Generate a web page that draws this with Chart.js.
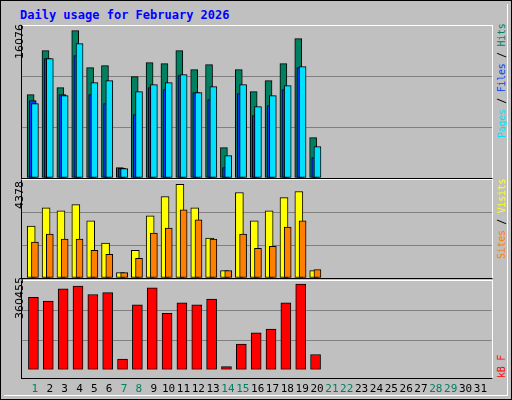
<!DOCTYPE html>
<html>
<head>
<meta charset="utf-8">
<script src="https://cdn.jsdelivr.net/npm/chart.js@4/dist/chart.umd.min.js"></script>
<style>
  body { margin: 0; background: #fff; }
  #frame { position: relative; width: 510px; height: 398px; background: #c0c0c0; border: 1px solid #000; overflow: hidden; }
  #frame::after { content: ''; position: absolute; left: 3px; top: 3px; right: 3px; bottom: 3px; border-right: 1px solid #fff; border-bottom: 1px solid #fff; pointer-events: none; }
  .title { position: absolute; left: 19px; top: 7px; font: bold 12px "DejaVu Sans Mono", monospace; color: #0000ff; }
  canvas { position: absolute; }
  .panel { position: absolute; left: 20px; width: 470px; border: 1px solid #000; border-top-color: #fff; border-right-color: #fff; }
  .vl { position: absolute; transform-origin: left top; transform: rotate(-90deg); white-space: nowrap; font: 11px "DejaVu Sans", sans-serif; color: #000; }
  .vr { position: absolute; transform-origin: left top; transform: rotate(-90deg); white-space: nowrap; font: 10px "DejaVu Sans Mono", monospace; letter-spacing: -0.3px; }
</style>
</head>
<body>
<div id="frame">
  <div class="title">Daily usage for February 2026</div>
  <div class="panel" style="top:24px;height:152px"></div>
  <div class="panel" style="top:178px;height:98px"></div>
  <div class="panel" style="top:279px;height:97px"></div>
  <canvas id="topChart" style="left:21px;top:25px" width="470" height="152"></canvas>
  <canvas id="midChart" style="left:21px;top:179px" width="470" height="98"></canvas>
  <canvas id="botChart" style="left:21px;top:280px" width="470" height="120"></canvas>
  <div id="maxHitsLbl" class="vl" style="left:12px;top:58px"></div>
  <div id="maxVisitsLbl" class="vl" style="left:12px;top:208px"></div>
  <div id="maxKbLbl" class="vl" style="left:12px;top:318px"></div>
  <div class="vr" style="left:495px;top:137px"><span style="color:#00e0ff">Pages</span> / <span style="color:#0040ff">Files</span> / <span style="color:#008060">Hits</span></div>
  <div class="vr" style="left:495px;top:258px"><span style="color:#ff8000">Sites</span> / <span style="color:#ffff00">Visits</span></div>
  <div class="vr" style="left:495px;top:377px"><span style="color:#ff0000">kB F</span></div>
</div>
<script>
// Data
const days = Array.from({ length: 31 }, (_, i) => i + 1);
const weekendDays = [1, 7, 8, 14, 15, 21, 22, 28, 29];
const hits = [9093, 13894, 9857, 16076, 12039, 12257, 1127, 11057, 12584, 12475, 13894, 11821, 12366, 3310, 11821, 9420, 10620, 12475, 15203, 4401];
const files = [8438, 13021, 9093, 13348, 9093, 8111, 1055, 6911, 9857, 9638, 11166, 9311, 8547, 1127, 9202, 6801, 7893, 9638, 12039, 2219];
const pages = [8111, 13021, 8984, 14657, 10402, 10620, 1018, 9420, 10184, 10402, 11275, 9311, 9966, 2437, 10184, 7783, 8984, 10075, 12148, 3419];
const visits = [2434, 3287, 3145, 3430, 2671, 1628, 253, 1296, 2908, 3809, 4378, 3287, 1865, 348, 3999, 2671, 3145, 3762, 4046, 348];
const sites = [1675, 2055, 1818, 1818, 1296, 1106, 253, 917, 2102, 2339, 3193, 2718, 1818, 348, 2055, 1391, 1486, 2387, 2671, 395];
const kbytes = [305196, 289410, 340715, 352554, 317036, 324929, 44727, 273624, 344661, 238106, 281517, 273624, 297303, 13155, 107871, 155229, 171015, 281517, 360455, 64460];
const maxLabels = ['16076', '4378', '360455'];

document.getElementById('maxHitsLbl').textContent = maxLabels[0];
document.getElementById('maxVisitsLbl').textContent = maxLabels[1];
document.getElementById('maxKbLbl').textContent = maxLabels[2];

const xMin = 0.13, xMax = 31.74;

const series = (values, offset, color, width, order) => ({
    data: values.map((v, i) => ({ x: i + 1 + offset, y: v })),
    backgroundColor: color,
    borderColor: '#000',
    borderWidth: 1,
    borderSkipped: false,
    barThickness: width,
    grouped: false,
    order: order
});

const makeChart = (id, datasets, yMax, showX) => {
    new Chart(document.getElementById(id), {
        type: 'bar',
        data: { datasets: datasets },
        options: {
            responsive: false,
            animation: false,
            layout: { padding: 0 },
            plugins: { legend: { display: false }, tooltip: { enabled: false } },
            scales: {
                x: {
                    type: 'linear', min: xMin, max: xMax,
                    offset: false,
                    display: showX,
                    grid: { display: false },
                    border: { display: false },
                    afterBuildTicks: (axis) => { axis.ticks = days.map(d => ({ value: d })); },
                    ticks: {
                        autoSkip: false, maxRotation: 0, padding: 5,
                        font: { family: 'DejaVu Sans Mono', size: 11 },
                        color: (ctx) => weekendDays.includes(ctx.tick.value) ? '#008060' : '#000'
                    }
                },
                y: {
                    display: true, min: 0, max: yMax,
                    afterBuildTicks: (axis) => { axis.ticks = [0, yMax / 3, yMax * 2 / 3, yMax].map(v => ({ value: v })); },
                    ticks: { display: false },
                    border: { display: false },
                    grid: {
                        drawTicks: false,
                        color: (ctx) => (ctx.index === 1 || ctx.index === 2) ? '#808080' : 'rgba(0,0,0,0)',
                        lineWidth: 1
                    }
                }
            }
        }
    });
};

makeChart('topChart', [
    series(hits, -0.29, '#008060', 7, 3),
    series(files, -0.15, '#0040ff', 7, 2),
    series(pages, 0, '#00e0ff', 7, 1)
], 16076 * 1.031, false);

makeChart('midChart', [
    series(visits, -0.25, '#ffff00', 8, 2),
    series(sites, 0, '#ff8000', 7, 1)
], 4378 * 1.047, false);

makeChart('botChart', [
    series(kbytes, -0.1, '#ff0000', 10, 1)
], 360455 * 1.037, true);
</script>
</body>
</html>
